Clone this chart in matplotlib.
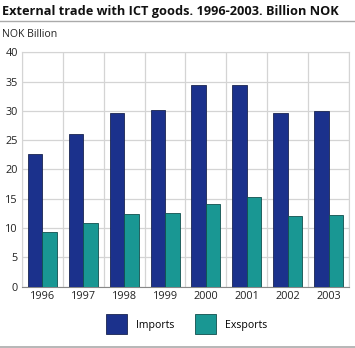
import matplotlib
matplotlib.use("Agg")
import matplotlib.pyplot as plt
import numpy as np
from matplotlib.lines import Line2D

years = ["1996", "1997", "1998", "1999", "2000", "2001", "2002", "2003"]
imports = [22.7, 26.0, 29.7, 30.1, 34.4, 34.4, 29.6, 30.0]
exports = [9.3, 10.8, 12.4, 12.6, 14.1, 15.3, 12.1, 12.2]

plt.rcParams["font.family"] = ["Open Sans", "DejaVu Sans"]

fig = plt.figure(figsize=(3.55, 3.48), dpi=100)
ax = fig.add_axes([0.062, 0.176, 0.921, 0.674])

x = np.arange(len(years))
w = 0.355
ax.bar(x - w / 2, imports, w, color="#1b318c", edgecolor="#1a2550", linewidth=0.6,
       label="Imports", zorder=3)
ax.bar(x + w / 2, exports, w, color="#199793", edgecolor="#10504e", linewidth=0.6,
       label="Exsports", zorder=3)

ax.set_xlim(-0.5, len(years) - 0.5)
ax.set_ylim(0, 40)
ax.set_yticks(range(0, 41, 5))
ax.set_xticks(x)
ax.set_xticklabels(years)
ax.set_xticks(np.arange(-0.5, len(years), 1), minor=True)
ax.grid(True, which="minor", axis="x", color="#d4d4d4", linewidth=0.9, zorder=0)
ax.grid(True, which="major", axis="y", color="#d4d4d4", linewidth=0.9, zorder=0)
ax.tick_params(which="both", length=0, labelsize=7.8, colors="#222222", pad=3)
for s in ax.spines.values():
    s.set_color("#d4d4d4")
ax.spines["bottom"].set_color("#888888")

fig.text(0.006, 0.968, "External trade with ICT goods. 1996-2003. Billion NOK",
         fontsize=9.2, fontweight="bold", color="#111111", va="center")
fig.add_artist(Line2D([0, 1], [0.941, 0.941], color="#aaaaaa", linewidth=1))
fig.text(0.006, 0.902, "NOK Billion", fontsize=7.6, color="#222222", va="center")
fig.add_artist(Line2D([0, 1], [0.003, 0.003], color="#aaaaaa", linewidth=1.2))

fig.legend(loc="center", bbox_to_anchor=(0.525, 0.068), ncol=2, frameon=False,
           fontsize=7.6, handlelength=2.0, handleheight=2.5, columnspacing=2.0,
           handletextpad=0.8)

fig.savefig("out.png", dpi=100)
